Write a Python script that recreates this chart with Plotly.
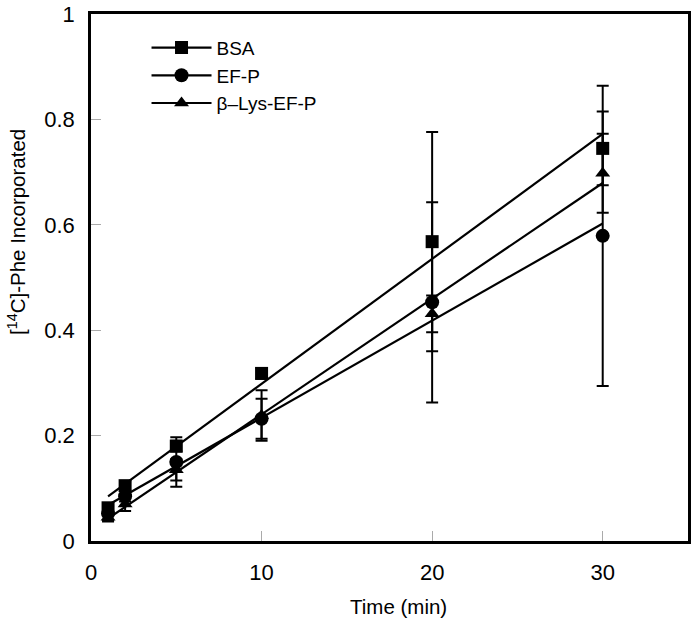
import numpy as np
import plotly.graph_objects as go

time_min = [1, 2, 5, 10, 20, 30]

bsa = [0.063, 0.105, 0.180, 0.318, 0.568, 0.745]
bsa_err = [0.008, 0.008, 0.010, 0.010, 0.208, 0.070]

efp = [0.052, 0.085, 0.150, 0.232, 0.453, 0.579]
efp_err = [0.015, 0.010, 0.047, 0.038, 0.190, 0.285]

blys = [0.045, 0.070, 0.135, 0.238, 0.431, 0.698]
blys_err = [0.006, 0.013, 0.020, 0.048, 0.035, 0.075]

series = [
    ("BSA", bsa, bsa_err, "square", 13),
    ("EF-P", efp, efp_err, "circle", 14),
    ("β–Lys-EF-P", blys, blys_err, "triangle-up", 13),
]

FONT = "Liberation Sans, Arial, sans-serif"
fig = go.Figure()

for name, vals, errs, sym, sz in series:
    k, b = np.polyfit(time_min, vals, 1)
    xf = [time_min[0], time_min[-1]]
    yf = [k * xv + b for xv in xf]
    fig.add_trace(go.Scatter(x=xf, y=yf, mode="lines",
                             line=dict(color="black", width=2.2),
                             showlegend=False, hoverinfo="skip"))
    fig.add_trace(go.Scatter(x=time_min, y=vals, mode="markers",
                             marker=dict(symbol=sym, size=sz, color="black"),
                             error_y=dict(type="data", array=errs, visible=True,
                                          color="black", thickness=2, width=6),
                             showlegend=False, name=name))
    fig.add_trace(go.Scatter(x=[None], y=[None], mode="lines+markers", name=name,
                             line=dict(color="black", width=2.2),
                             marker=dict(symbol=sym, size=sz, color="black")))

fig.update_layout(
    width=693, height=622,
    margin=dict(l=91, r=2, t=9, b=81),
    plot_bgcolor="white", paper_bgcolor="white",
    font=dict(family=FONT, size=22, color="black"),
    showlegend=True,
    legend=dict(x=0.093, y=0.972, xanchor="left", yanchor="top",
                bgcolor="rgba(0,0,0,0)", font=dict(size=19),
                itemwidth=60, tracegroupgap=0),
    xaxis=dict(range=[0, 35], tickvals=[0, 10, 20, 30], ticks="inside",
               ticklen=10, tickcolor="#aaaaaa", tickwidth=1,
               showline=True, linecolor="black", linewidth=2.5, mirror=True,
               showgrid=False, zeroline=False, ticklabelstandoff=10,
               ticklabeloverflow="allow", tickfont=dict(size=22)),
    yaxis=dict(range=[0, 1], tickvals=[0, 0.2, 0.4, 0.6, 0.8, 1],
               ticktext=["0", "0.2", "0.4", "0.6", "0.8", "1"], ticks="inside",
               ticklen=10, tickcolor="#aaaaaa", tickwidth=1,
               showline=True, linecolor="black", linewidth=2.5, mirror=True,
               showgrid=False, zeroline=False, ticklabelstandoff=9,
               ticklabeloverflow="allow", tickfont=dict(size=22)),
    annotations=[
        dict(text="[<sup>14</sup>C]-Phe Incorporated", xref="paper", yref="paper",
             x=-0.125, y=0.587, textangle=-90, showarrow=False,
             xanchor="center", yanchor="middle", font=dict(size=20.5)),
        dict(text="Time (min)", xref="paper", yref="paper",
             x=0.515, y=-0.125, showarrow=False,
             xanchor="center", yanchor="middle", font=dict(size=20.5)),
    ],
)

fig.write_html("out.html", post_script="document.body.style.margin='0';",
               config={"displayModeBar": False})
